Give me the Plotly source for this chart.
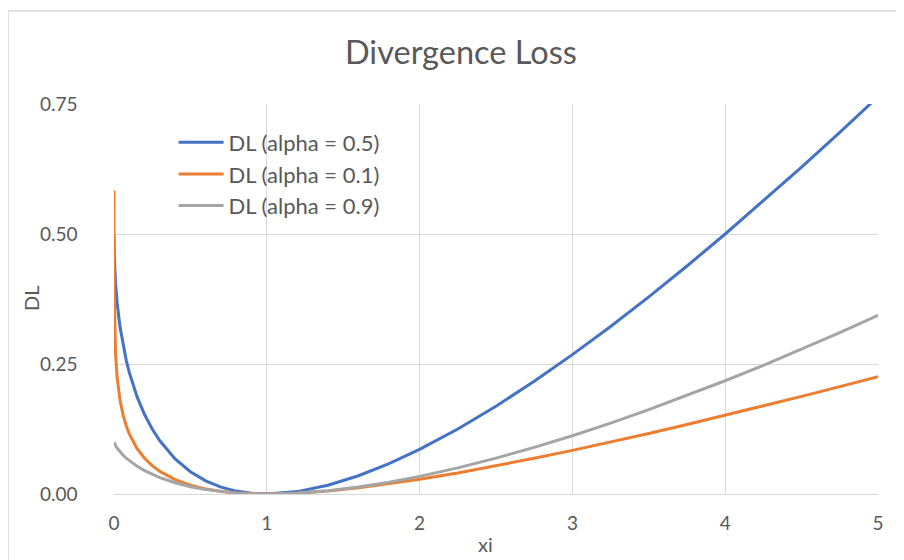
import plotly.graph_objects as go

# xi grid and DL values
xi = [0.00001, 0.001, 0.01, 0.02, 0.04, 0.06, 0.08, 0.1, 0.15, 0.2, 0.25, 0.3,
      0.4, 0.5, 0.6, 0.7, 0.8, 0.9, 1.0, 1.2, 1.4, 1.6, 1.8, 2.0, 2.25, 2.5,
      2.75, 3.0, 3.25, 3.5, 3.75, 4.0, 4.25, 4.5, 4.75, 5.0]

dl_a05 = [0.4968, 0.4689, 0.4050, 0.3686, 0.3200, 0.2851, 0.2572, 0.2338, 0.1877,
          0.1528, 0.1250, 0.1023, 0.0675, 0.0429, 0.0254, 0.0133, 0.0056, 0.0013,
          0.0, 0.0046, 0.0168, 0.0351, 0.0584, 0.0858, 0.1250, 0.1689, 0.2167,
          0.2680, 0.3222, 0.3792, 0.4385, 0.5000, 0.5635, 0.6287, 0.6956, 0.7639]

dl_a01 = [0.5838, 0.3989, 0.2700, 0.2258, 0.1792, 0.1512, 0.1312, 0.1157, 0.0878,
          0.0687, 0.0545, 0.0434, 0.0276, 0.0170, 0.0098, 0.0050, 0.0021, 0.0005,
          0.0, 0.0016, 0.0058, 0.0119, 0.0195, 0.0282, 0.0405, 0.0540, 0.0686,
          0.0839, 0.0999, 0.1165, 0.1337, 0.1513, 0.1693, 0.1877, 0.2064, 0.2254]

dl_a09 = [0.1000, 0.0989, 0.0932, 0.0884, 0.0808, 0.0745, 0.0690, 0.0641, 0.0537,
          0.0451, 0.0378, 0.0316, 0.0216, 0.0141, 0.0086, 0.0046, 0.0020, 0.0005,
          0.0, 0.0017, 0.0063, 0.0135, 0.0228, 0.0339, 0.0503, 0.0689, 0.0896,
          0.1121, 0.1363, 0.1621, 0.1893, 0.2178, 0.2475, 0.2784, 0.3103, 0.3433]

series = [
    ("DL (alpha = 0.5)", dl_a05, "#4472C4"),
    ("DL (alpha = 0.1)", dl_a01, "#ED7D31"),
    ("DL (alpha = 0.9)", dl_a09, "#A5A5A5"),
]

FONT = "Lato, 'Open Sans', sans-serif"
GREY = "#595959"

fig = go.Figure()
for name, vals, col in series:
    fig.add_trace(go.Scatter(x=xi, y=vals, mode="lines", name=name,
                             line=dict(color=col, width=3)))

# page body adds ~8px offset, margins compensate
fig.update_layout(
    width=904, height=560,
    margin=dict(l=106, r=34, t=96, b=74),
    paper_bgcolor="white", plot_bgcolor="white",
    font=dict(family=FONT, color=GREY, size=19),
    title=dict(text="Divergence Loss", x=0.501, xanchor="center",
               y=0.92, yanchor="middle", font=dict(size=32.5, color=GREY)),
    legend=dict(x=0.078, y=0.955, xanchor="left", yanchor="top",
                font=dict(size=22, color=GREY), bgcolor="rgba(0,0,0,0)",
                itemwidth=45),
    showlegend=True,
)
fig.update_xaxes(range=[0, 5], dtick=1, tick0=0, showgrid=True,
                 gridcolor="#D9D9D9", gridwidth=1, zeroline=False,
                 showline=True, linecolor="#D9D9D9", linewidth=1,
                 ticks="", ticklabelstandoff=12)
# extra gap between y labels and plot, as in the reference
fig.update_yaxes(range=[0, 0.75], dtick=0.25, tick0=0, tickformat=".2f",
                 ticksuffix="\u00a0\u00a0",
                 showgrid=True, gridcolor="#D9D9D9", gridwidth=1,
                 zeroline=False, showline=False, ticks="outside", ticklen=10,
                 tickcolor="rgba(0,0,0,0)", ticklabelstandoff=12)

# axis titles
fig.add_annotation(text="xi", xref="paper", yref="paper", x=(485 - 114) / 764,
                   y=(494 - 544) / 390, xanchor="center", yanchor="middle",
                   showarrow=False, font=dict(size=20, color=GREY))
fig.add_annotation(text="DL", xref="paper", yref="paper", x=(31 - 114) / 764,
                   y=0.5, xanchor="center", yanchor="middle", textangle=-90,
                   showarrow=False, font=dict(size=20, color=GREY))

# chart outline
fig.add_shape(type="rect", xref="paper", yref="paper",
              x0=(8 - 114) / 764, x1=(920 - 114) / 764,
              y0=(494 - 580) / 390, y1=(494 - 11) / 390,
              line=dict(color="#D9D9D9", width=1.5), layer="below")

fig.write_html("out.html")
